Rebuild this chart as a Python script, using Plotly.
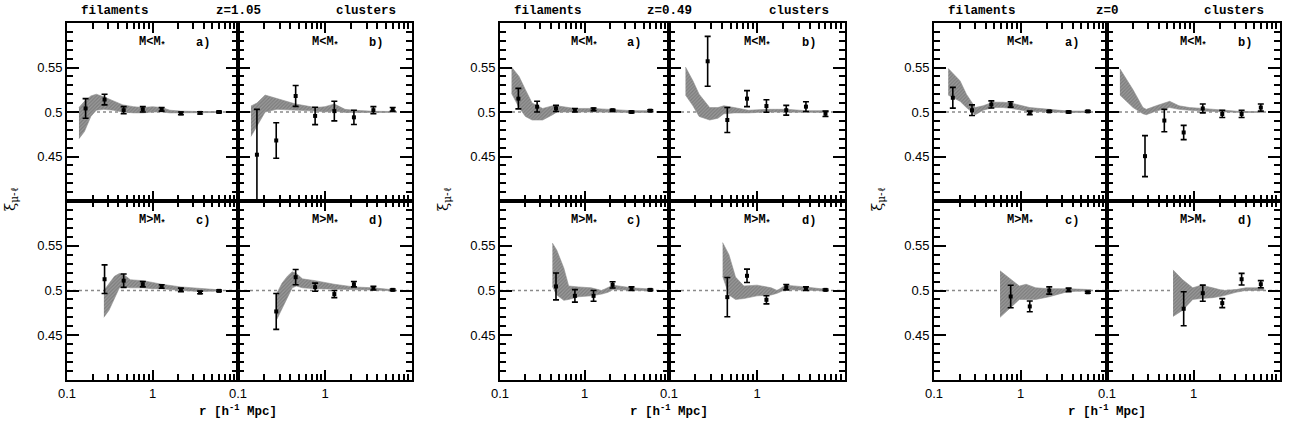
import math
import plotly.graph_objects as go

# ---------------- data ----------------
R_POINTS = [0.165, 0.275, 0.46, 0.77, 1.28, 2.15, 3.6, 6.0]

REDSHIFT_LABELS = ["z=1.05", "z=0.49", "z=0"]
PANEL_LETTERS = ["a)", "b)", "c)", "d)"]
MASS_LABELS = ["M&lt;M<sub>*</sub>", "M&lt;M<sub>*</sub>", "M&gt;M<sub>*</sub>", "M&gt;M<sub>*</sub>"]

# z = 1.05
z105_a_y = [0.504, 0.514, 0.502, 0.503, 0.503, 0.4985, 0.499, 0.500]
z105_a_err = [0.011, 0.006, 0.004, 0.003, 0.002, 0.0015, 0.0012, 0.001]
z105_a_bx = [0.138, 0.16, 0.19, 0.22, 0.27, 0.35, 0.45, 0.6, 0.77, 1.0, 1.28, 1.6, 2.15, 3.6, 6.5]
z105_a_lo = [0.470, 0.478, 0.495, 0.502, 0.503, 0.502, 0.500, 0.499, 0.499, 0.500, 0.500, 0.499, 0.499, 0.4995, 0.4995]
z105_a_hi = [0.505, 0.512, 0.518, 0.520, 0.517, 0.512, 0.508, 0.506, 0.505, 0.506, 0.505, 0.502, 0.501, 0.5005, 0.5005]

z105_b_y = [0.452, 0.468, 0.518, 0.4956, 0.501, 0.494, 0.502, 0.503]
z105_b_err = [0.051, 0.02, 0.0117, 0.0098, 0.011, 0.008, 0.004, 0.002]
z105_b_bx = [0.141, 0.165, 0.205, 0.28, 0.46, 0.78, 1.0, 1.28, 1.7, 2.15, 3.6, 6.5]
z105_b_lo = [0.4726, 0.485, 0.500, 0.503, 0.502, 0.501, 0.500, 0.501, 0.4995, 0.499, 0.4995, 0.4995]
z105_b_hi = [0.5067, 0.510, 0.519, 0.515, 0.509, 0.505, 0.506, 0.509, 0.503, 0.502, 0.5008, 0.5005]

z105_c_y = [None, 0.5126, 0.511, 0.507, 0.5045, 0.5007, 0.4978, 0.4996]
z105_c_err = [None, 0.016, 0.0075, 0.003, 0.002, 0.002, 0.0015, 0.001]
z105_c_bx = [0.27, 0.31, 0.36, 0.41, 0.46, 0.55, 0.77, 1.0, 1.28, 2.15, 3.6, 6.5]
z105_c_lo = [0.470, 0.478, 0.492, 0.503, 0.504, 0.503, 0.503, 0.502, 0.502, 0.500, 0.499, 0.4995]
z105_c_hi = [0.500, 0.508, 0.516, 0.519, 0.518, 0.512, 0.511, 0.509, 0.507, 0.504, 0.502, 0.5005]

z105_d_y = [None, 0.4766, 0.5149, 0.5037, 0.496, 0.507, 0.5026, 0.5007]
z105_d_err = [None, 0.02, 0.0085, 0.0045, 0.004, 0.003, 0.002, 0.001]
z105_d_bx = [0.28, 0.32, 0.37, 0.42, 0.47, 0.55, 0.77, 1.28, 2.15, 3.6, 6.5]
z105_d_lo = [0.468, 0.478, 0.492, 0.503, 0.505, 0.503, 0.502, 0.501, 0.501, 0.5005, 0.4995]
z105_d_hi = [0.497, 0.508, 0.516, 0.521, 0.519, 0.513, 0.511, 0.507, 0.504, 0.503, 0.5005]

# z = 0.49
z049_a_y = [0.515, 0.506, 0.504, 0.502, 0.503, 0.502, 0.500, 0.5015]
z049_a_err = [0.0115, 0.006, 0.0035, 0.002, 0.0015, 0.001, 0.001, 0.001]
z049_a_bx = [0.137, 0.168, 0.2, 0.24, 0.32, 0.42, 0.47, 0.77, 1.28, 2.15, 3.6, 6.5]
z049_a_lo = [0.521, 0.505, 0.495, 0.491, 0.491, 0.497, 0.500, 0.500, 0.500, 0.500, 0.4995, 0.4995]
z049_a_hi = [0.5505, 0.540, 0.525, 0.510, 0.504, 0.507, 0.507, 0.504, 0.504, 0.503, 0.5015, 0.5015]

z049_b_y = [None, 0.557, 0.491, 0.515, 0.5067, 0.502, 0.506, 0.498]
z049_b_err = [None, 0.028, 0.014, 0.009, 0.007, 0.0055, 0.0055, 0.003]
z049_b_bx = [0.154, 0.187, 0.22, 0.29, 0.36, 0.42, 0.55, 0.8, 1.28, 2.15, 3.6, 6.5]
z049_b_lo = [0.519, 0.507, 0.495, 0.491, 0.493, 0.498, 0.499, 0.499, 0.500, 0.500, 0.4995, 0.4995]
z049_b_hi = [0.5505, 0.535, 0.520, 0.505, 0.505, 0.507, 0.505, 0.502, 0.503, 0.503, 0.5015, 0.5015]

z049_c_y = [None, None, 0.5045, 0.494, 0.494, 0.5063, 0.502, 0.5007]
z049_c_err = [None, None, 0.015, 0.007, 0.006, 0.0035, 0.002, 0.001]
z049_c_bx = [0.417, 0.47, 0.57, 0.65, 0.85, 1.2, 1.6, 1.9, 2.17, 3.6, 6.5]
z049_c_lo = [0.5045, 0.495, 0.489, 0.490, 0.493, 0.494, 0.496, 0.498, 0.501, 0.5005, 0.4995]
z049_c_hi = [0.553, 0.545, 0.525, 0.505, 0.504, 0.503, 0.500, 0.503, 0.506, 0.503, 0.5015]

z049_d_y = [None, None, 0.4926, 0.5164, 0.4896, 0.5037, 0.502, 0.5007]
z049_d_err = [None, None, 0.022, 0.0075, 0.0045, 0.003, 0.002, 0.001]
z049_d_bx = [0.407, 0.48, 0.57, 0.71, 1.0, 1.45, 1.7, 2.1, 3.5, 6.5]
z049_d_lo = [0.516, 0.495, 0.490, 0.491, 0.494, 0.495, 0.497, 0.501, 0.5005, 0.4995]
z049_d_hi = [0.5535, 0.540, 0.515, 0.505, 0.506, 0.503, 0.500, 0.506, 0.504, 0.501]

# z = 0
z000_a_y = [0.516, 0.502, 0.5085, 0.5085, 0.499, 0.5007, 0.500, 0.5007]
z000_a_err = [0.0117, 0.006, 0.004, 0.003, 0.002, 0.001, 0.001, 0.001]
z000_a_bx = [0.146, 0.2, 0.237, 0.3, 0.37, 0.48, 0.63, 0.78, 1.28, 2.15, 3.6, 6.5]
z000_a_lo = [0.519, 0.512, 0.505, 0.497, 0.502, 0.505, 0.505, 0.504, 0.5005, 0.500, 0.4995, 0.4995]
z000_a_hi = [0.549, 0.535, 0.520, 0.505, 0.507, 0.511, 0.511, 0.510, 0.505, 0.503, 0.501, 0.501]

z000_b_y = [None, 0.4504, 0.4904, 0.477, 0.504, 0.4978, 0.4978, 0.505]
z000_b_err = [None, 0.023, 0.0126, 0.008, 0.005, 0.004, 0.004, 0.004]
z000_b_bx = [0.141, 0.2, 0.26, 0.285, 0.37, 0.53, 0.68, 0.9, 1.28, 2.12, 3.5, 6.5]
z000_b_lo = [0.519, 0.505, 0.498, 0.497, 0.501, 0.505, 0.503, 0.502, 0.501, 0.500, 0.4995, 0.4995]
z000_b_hi = [0.5485, 0.525, 0.505, 0.503, 0.507, 0.512, 0.507, 0.505, 0.504, 0.502, 0.5005, 0.5005]

z000_c_y = [None, None, None, 0.4933, 0.4822, 0.500, 0.5007, 0.498]
z000_c_err = [None, None, None, 0.0125, 0.006, 0.004, 0.002, 0.001]
z000_c_bx = [0.58, 0.75, 0.97, 1.16, 1.5, 2.15, 2.8, 3.6, 6.5]
z000_c_lo = [0.470, 0.480, 0.490, 0.490, 0.490, 0.493, 0.496, 0.499, 0.4995]
z000_c_hi = [0.522, 0.513, 0.505, 0.507, 0.503, 0.502, 0.502, 0.502, 0.501]

z000_d_y = [None, None, None, 0.4796, 0.497, 0.4859, 0.5126, 0.507]
z000_d_err = [None, None, None, 0.019, 0.009, 0.005, 0.0065, 0.004]
z000_d_bx = [0.58, 0.75, 0.98, 1.23, 1.67, 2.2, 3.1, 4.0, 6.5]
z000_d_lo = [0.471, 0.478, 0.490, 0.491, 0.492, 0.494, 0.498, 0.500, 0.500]
z000_d_hi = [0.523, 0.512, 0.503, 0.506, 0.503, 0.500, 0.501, 0.503, 0.503]

PANELS = [
    [(z105_a_y, z105_a_err, z105_a_bx, z105_a_lo, z105_a_hi),
     (z105_b_y, z105_b_err, z105_b_bx, z105_b_lo, z105_b_hi),
     (z105_c_y, z105_c_err, z105_c_bx, z105_c_lo, z105_c_hi),
     (z105_d_y, z105_d_err, z105_d_bx, z105_d_lo, z105_d_hi)],
    [(z049_a_y, z049_a_err, z049_a_bx, z049_a_lo, z049_a_hi),
     (z049_b_y, z049_b_err, z049_b_bx, z049_b_lo, z049_b_hi),
     (z049_c_y, z049_c_err, z049_c_bx, z049_c_lo, z049_c_hi),
     (z049_d_y, z049_d_err, z049_d_bx, z049_d_lo, z049_d_hi)],
    [(z000_a_y, z000_a_err, z000_a_bx, z000_a_lo, z000_a_hi),
     (z000_b_y, z000_b_err, z000_b_bx, z000_b_lo, z000_b_hi),
     (z000_c_y, z000_c_err, z000_c_bx, z000_c_lo, z000_c_hi),
     (z000_d_y, z000_d_err, z000_d_bx, z000_d_lo, z000_d_hi)],
]

X_MAJOR = [0.1, 1, 10]
X_MINOR = [m * d for d in (0.1, 1) for m in range(2, 10)]
Y_MAJOR = [0.4, 0.45, 0.5, 0.55, 0.6]
Y_MAJOR_TEXT = ["", "0.45", "0.5", "0.55", ""]
Y_MINOR = [round(0.40 + 0.01 * k, 2) for k in range(1, 20) if k % 5 != 0]

# ---------------- layout geometry (pixels) ----------------
W, H = 1290, 426
GROUP_X = [(67, 238, 412), (500, 669, 845), (934, 1107, 1280)]
ROW_Y = [(23, 201), (201, 380)]

fig = go.Figure()


def px_x(p):
    return p / W


def px_y(p):
    return 1 - p / H


FONT_TXT = "Liberation Mono"
FONT_TICK = "Liberation Sans"

annotations = []
extra = 12  # counter for overlay minor-tick axes
for g in range(3):
    x0, xm, x1 = GROUP_X[g]
    for p in range(4):
        idx = g * 4 + p + 1
        col = p % 2
        row = p // 2
        xs = (x0, xm) if col == 0 else (xm, x1)
        ys = ROW_Y[row]
        xa = "x" if idx == 1 else f"x{idx}"
        ya = "y" if idx == 1 else f"y{idx}"
        yv, ev, bx, lo, hi = PANELS[g][p]

        # dotted reference line
        fig.add_trace(go.Scatter(x=[0.1, 10], y=[0.5, 0.5], mode="lines",
                                 line=dict(color="#8a8a8a", width=1.4, dash="dot"),
                                 xaxis=xa, yaxis=ya, showlegend=False, hoverinfo="skip"))
        # shaded band
        fig.add_trace(go.Scatter(x=list(bx) + list(bx)[::-1], y=list(hi) + list(lo)[::-1],
                                 mode="lines", fill="toself",
                                 fillcolor="#888888",
                                 fillpattern=dict(shape="/", fgcolor="#5e5e5e", bgcolor="#9a9a9a",
                                                  size=2.5, solidity=0.5),
                                 line=dict(color="#8e8e8e", width=0.6),
                                 xaxis=xa, yaxis=ya, showlegend=False, hoverinfo="skip"))
        # points with error bars
        fig.add_trace(go.Scatter(x=R_POINTS, y=yv, mode="markers",
                                 marker=dict(color="black", size=4, symbol="square"),
                                 error_y=dict(type="data", array=ev, visible=True,
                                              color="black", thickness=1.6, width=3),
                                 xaxis=xa, yaxis=ya, showlegend=False))

        sfx = '' if idx == 1 else idx
        fig.layout[f"xaxis{sfx}"] = dict(
            type="log", range=[-1, 1], domain=[px_x(xs[0]), px_x(xs[1])], anchor=ya,
            showline=True, linecolor="black", linewidth=1.8, mirror="allticks",
            ticks="inside", ticklen=10, tickwidth=2, tickcolor="black",
            tickvals=X_MAJOR, ticktext=["0.1", "1", ""],
            showticklabels=(row == 1), showgrid=False, zeroline=False,
            tickfont=dict(family=FONT_TICK, size=13, color="black"),
            automargin=False, fixedrange=True)
        fig.layout[f"yaxis{sfx}"] = dict(
            range=[0.4, 0.6], domain=[px_y(ys[1]), px_y(ys[0])], anchor=xa,
            showline=True, linecolor="black", linewidth=1.8, mirror="allticks",
            ticks="inside", ticklen=12, tickwidth=2, tickcolor="black",
            tickvals=Y_MAJOR, ticktext=Y_MAJOR_TEXT,
            showticklabels=(col == 0), showgrid=False, zeroline=False,
            tickfont=dict(family=FONT_TICK, size=13, color="black"),
            automargin=False, fixedrange=True)

        # overlay axes that carry the minor ticks on all four sides
        extra += 1
        mx = extra
        extra += 1
        my = extra
        fig.layout[f"xaxis{mx}"] = dict(
            type="log", range=[-1, 1], domain=[px_x(xs[0]), px_x(xs[1])], anchor=f"y{my}",
            overlaying=xa, showline=True, linecolor="black", linewidth=1.8, mirror="allticks",
            ticks="inside", ticklen=6, tickwidth=1.6, tickcolor="black",
            tickvals=X_MINOR, showticklabels=False, showgrid=False, zeroline=False,
            automargin=False, fixedrange=True)
        fig.layout[f"yaxis{my}"] = dict(
            range=[0.4, 0.6], domain=[px_y(ys[1]), px_y(ys[0])], anchor=f"x{mx}",
            overlaying=ya, showline=True, linecolor="black", linewidth=1.8, mirror="allticks",
            ticks="inside", ticklen=6, tickwidth=1.6, tickcolor="black",
            tickvals=Y_MINOR, showticklabels=False, showgrid=False, zeroline=False,
            automargin=False, fixedrange=True)
        # invisible trace so the overlay subplot is created
        fig.add_trace(go.Scatter(x=[1], y=[0.5], mode="markers", marker=dict(opacity=0),
                                 xaxis=f"x{mx}", yaxis=f"y{my}", showlegend=False,
                                 hoverinfo="skip"))

        ylab = 0.577 if row == 0 else 0.578
        annotations.append(dict(x=0, y=ylab, xref=xa, yref=ya, text=f"<b>{MASS_LABELS[p]}</b>",
                                showarrow=False, xanchor="center", yanchor="middle",
                                font=dict(family=FONT_TXT, size=12, color="black")))
        annotations.append(dict(x=math.log10(3.9), y=ylab, xref=xa, yref=ya,
                                text=f"<b>{PANEL_LETTERS[p]}</b>",
                                showarrow=False, xanchor="center", yanchor="middle",
                                font=dict(family=FONT_TXT, size=12, color="black")))

    top_y = px_y(11)
    annotations.append(dict(x=px_x(x0 + 12), y=top_y, xref="paper", yref="paper", text="<b>filaments</b>",
                            showarrow=False, xanchor="left", yanchor="middle",
                            font=dict(family=FONT_TXT, size=12.5, color="black")))
    annotations.append(dict(x=px_x(xm), y=top_y, xref="paper", yref="paper",
                            text=f"<b>{REDSHIFT_LABELS[g]}</b>",
                            showarrow=False, xanchor="center", yanchor="middle",
                            font=dict(family=FONT_TXT, size=12.5, color="black")))
    annotations.append(dict(x=px_x(x1 - 14), y=top_y, xref="paper", yref="paper", text="<b>clusters</b>",
                            showarrow=False, xanchor="right", yanchor="middle",
                            font=dict(family=FONT_TXT, size=12.5, color="black")))
    annotations.append(dict(x=px_x(xm), y=px_y(411), xref="paper", yref="paper",
                            text="<b>r [h<sup>-1</sup> Mpc]</b>",
                            showarrow=False, xanchor="center", yanchor="middle",
                            font=dict(family=FONT_TXT, size=12.5, color="black")))
    annotations.append(dict(x=px_x(x0 - 57), y=px_y(199), xref="paper", yref="paper",
                            text="ξ<sub>μ-ℓ</sub>", textangle=-90,
                            showarrow=False, xanchor="center", yanchor="middle",
                            font=dict(family="DejaVu Serif", size=15, color="black")))

fig.update_layout(width=W, height=H, margin=dict(l=0, r=0, t=0, b=0),
                  paper_bgcolor="white", plot_bgcolor="white",
                  annotations=annotations, showlegend=False)

fig.write_html("out.html")
